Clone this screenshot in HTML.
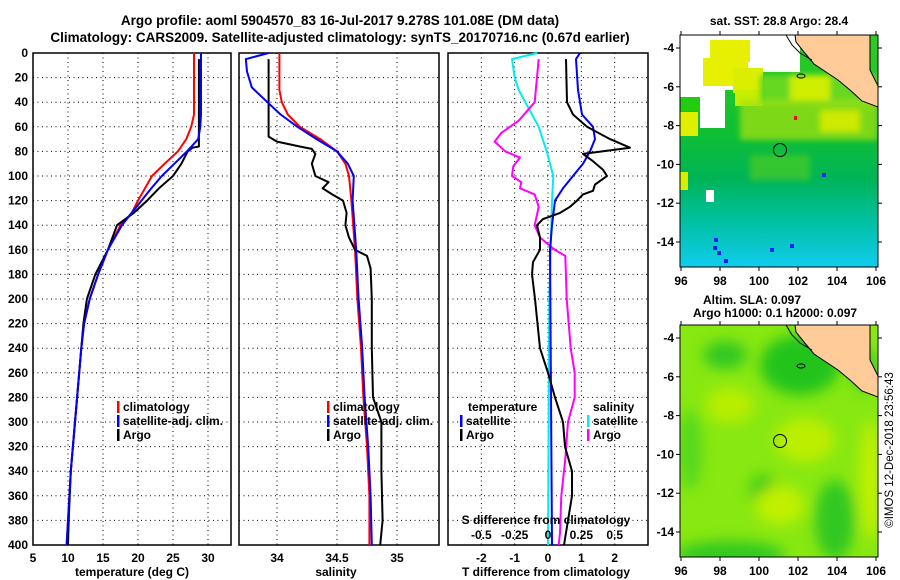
<!DOCTYPE html>
<html><head><meta charset="utf-8">
<style>
html,body{margin:0;padding:0;background:#fff;}
svg{display:block;font-family:"Liberation Sans",Arial,sans-serif;font-weight:bold;}
</style></head>
<body>
<svg id="fig" width="900" height="580" viewBox="0 0 900 580">
<defs>
<filter id="blur6" x="-50%" y="-50%" width="200%" height="200%"><feGaussianBlur stdDeviation="7"/></filter>
<filter id="blur3" x="-50%" y="-50%" width="200%" height="200%"><feGaussianBlur stdDeviation="3"/></filter>
<clipPath id="clipMap1"><rect x="680" y="35" width="198" height="232"/></clipPath>
<clipPath id="clipMap2"><rect x="680" y="325" width="198" height="232"/></clipPath>
<linearGradient id="sstGrad" x1="0" y1="0" x2="0" y2="1">
<stop offset="0" stop-color="#2fcc22"/><stop offset="0.4" stop-color="#10c030"/>
<stop offset="0.62" stop-color="#00b458"/><stop offset="0.8" stop-color="#00c0a0"/>
<stop offset="1" stop-color="#10ccee"/></linearGradient>
</defs>
<text x="340" y="25" font-size="13.5" text-anchor="middle">Argo profile: aoml 5904570_83 16-Jul-2017 9.278S 101.08E (DM data)</text>
<text x="340" y="42" font-size="13.5" text-anchor="middle">Climatology: CARS2009. Satellite-adjusted climatology: synTS_20170716.nc (0.67d earlier)</text>
<g id="p1"></g>
<g id="p2"></g>
<g id="p3"></g>

<!-- Top map: SST -->
<g>
<text x="779" y="25" font-size="12" text-anchor="middle">sat. SST: 28.8 Argo: 28.4</text>
<g clip-path="url(#clipMap1)">
<rect x="680" y="35" width="198" height="232" fill="url(#sstGrad)"/>
<polygon points="680,35,800,35,800,72,760,72,760,90,725,90,725,128,700,128,700,100,680,100" fill="#fff"/>
<rect x="710" y="40" width="40" height="22" fill="#e6f000"/>
<rect x="703" y="58" width="45" height="28" fill="#e6f000"/>
<rect x="733" y="68" width="30" height="25" fill="#dcee00"/>
<rect x="735" y="90" width="28" height="16" fill="#c8ee00"/>
<rect x="680" y="97" width="20" height="14" fill="#22cc11"/>
<rect x="680" y="112" width="18" height="24" fill="#e0ee00"/>
<g filter="url(#blur3)">
<rect x="760" y="75" width="118" height="30" fill="#66d822"/>
<rect x="790" y="75" width="40" height="25" fill="#d0ee00"/>
<rect x="740" y="100" width="138" height="40" fill="#a0e010" opacity="0.75"/>
<rect x="820" y="110" width="40" height="22" fill="#e0ee00" opacity="0.8"/>
<rect x="750" y="155" width="60" height="25" fill="#55d020" opacity="0.6"/>
</g>
<rect x="680" y="172" width="8" height="18" fill="#d6ee00"/>
<rect x="706" y="190" width="8" height="12" fill="#fff"/>
<rect x="794" y="116" width="3" height="4" fill="#f00"/>
<rect x="822" y="173" width="4" height="4" fill="#0022ee"/>
<rect x="714" y="238" width="4" height="4" fill="#0022ee"/><rect x="713" y="246" width="4" height="4" fill="#0022ee"/>
<rect x="717" y="251" width="4" height="4" fill="#0022ee"/><rect x="724" y="259" width="4" height="4" fill="#0022ee"/>
<rect x="770" y="248" width="4" height="4" fill="#0022ee"/><rect x="790" y="244" width="4" height="4" fill="#0022ee"/>
<polygon points="795,35,870,35,870,70,878,86,878,107,862,101,850,90,838,80,826,72,814,64,804,52,796,42" fill="#ffcc99" stroke="#000" stroke-width="1"/>
<polyline points="786,35,792,45,800,53,812,60" fill="none" stroke="#000"/>
<ellipse cx="801" cy="76" rx="4" ry="2" fill="none" stroke="#000"/>
<circle cx="780" cy="150" r="6.5" fill="none" stroke="#000"/>
</g>
<rect x="680" y="35" width="198" height="232" fill="none" stroke="#000"/>
<g id="m1ax"></g>
</g>

<!-- Bottom map: SLA -->
<g>
<text x="752" y="304" font-size="12" text-anchor="middle">Altim. SLA: 0.097</text>
<text x="775" y="317" font-size="12" text-anchor="middle">Argo h1000: 0.1 h2000: 0.097</text>
<g clip-path="url(#clipMap2)">
<rect x="680" y="325" width="198" height="232" fill="#88e811"/>
<g filter="url(#blur6)">
<ellipse cx="800" cy="365" rx="40" ry="30" fill="#22c41a"/>
<ellipse cx="725" cy="355" rx="22" ry="14" fill="#33c822"/>
<ellipse cx="764" cy="492" rx="14" ry="16" fill="#22c41a"/>
<ellipse cx="835" cy="520" rx="20" ry="40" fill="#33c822"/>
<ellipse cx="730" cy="555" rx="55" ry="14" fill="#33c822"/>
<ellipse cx="690" cy="450" rx="12" ry="40" fill="#55d81a"/>
<ellipse cx="730" cy="405" rx="24" ry="18" fill="#b8ee00"/>
<ellipse cx="805" cy="440" rx="30" ry="22" fill="#bcee00"/>
<ellipse cx="780" cy="505" rx="25" ry="20" fill="#c0f000"/>
<ellipse cx="870" cy="480" rx="10" ry="60" fill="#c4f000"/>
<ellipse cx="865" cy="370" rx="14" ry="22" fill="#44cc22"/>
</g>
<polygon points="795,325,870,325,870,360,878,376,878,397,862,391,850,380,838,370,826,362,814,354,804,342,796,332" fill="#ffcc99" stroke="#000" stroke-width="1"/>
<polyline points="786,325,792,335,800,343,812,350" fill="none" stroke="#000"/>
<ellipse cx="801" cy="366" rx="4" ry="2" fill="none" stroke="#000"/>
<circle cx="780" cy="441" r="6.5" fill="none" stroke="#000"/>
</g>
<rect x="680" y="325" width="198" height="232" fill="none" stroke="#000"/>
<g id="m2ax"></g>
</g>
<text transform="translate(893,450) rotate(-90)" font-size="11.5" font-weight="normal" text-anchor="middle">©IMOS 12-Dec-2018 23:56:43</text>
</svg>
<script>
// ---- data ----
const tDepth = [0,50,60,70,80,90,100,110,120,130,140,160,180,200,220,240,260,280,300,340,380,400];
const tClim = [28.0,28.0,27.6,26.9,25.7,23.8,22.0,21.0,20.0,19.1,17.5,15.7,14.3,13.1,12.3,11.9,11.6,11.3,11.0,10.4,10.0,9.8];
const tSat = [29.0,29.0,28.9,28.6,27.0,25.2,23.4,21.9,20.5,19.1,17.7,15.7,14.3,13.1,12.3,11.9,11.6,11.3,11.0,10.4,10.0,9.8];
const tArgoDepth = [5,76,77,80,90,100,110,120,130,140,160,180,200,220,240,260,280,300,340,380,400];
const tArgo = [28.7,28.7,27.8,27.1,26.2,25.0,23.0,21.3,19.4,17.0,15.7,13.9,12.7,12.2,11.9,11.6,11.3,11.0,10.4,10.1,10.0];
const sClimDepth = [0,30,40,50,60,70,80,90,100,120,160,200,240,280,320,360,400];
const sClim = [34.02,34.02,34.04,34.09,34.19,34.36,34.50,34.57,34.60,34.62,34.65,34.67,34.70,34.72,34.75,34.77,34.77];
const sSatDepth = [0,5,15,28,40,50,60,70,80,90,100,120,160,200,240,280,320,360,400];
const sSat = [33.93,33.74,33.75,33.79,33.92,34.03,34.17,34.33,34.50,34.59,34.64,34.63,34.66,34.68,34.71,34.73,34.76,34.78,34.79];
const sArgoDepth = [5,68,72,76,78,82,90,100,105,110,115,120,130,140,150,160,165,175,200,240,280,300,340,380,400];
const sArgo = [33.93,33.93,34.00,34.19,34.29,34.32,34.29,34.32,34.43,34.38,34.46,34.55,34.58,34.57,34.60,34.65,34.75,34.78,34.79,34.79,34.80,34.87,34.87,34.88,34.86];
const dsSatDepth = [0,5,20,30,40,50,60,80,100,120,160,200,400];
const dsSat = [-0.08,-0.27,-0.25,-0.22,-0.17,-0.12,-0.07,-0.01,0.04,0.03,0.02,0.01,0.00];
const dsArgoDepth = [5,40,55,65,72,80,85,92,100,105,110,115,125,140,150,160,165,200,240,260,280,300,330,360,390,400];
const dsArgo = [-0.07,-0.10,-0.22,-0.35,-0.40,-0.32,-0.21,-0.26,-0.27,-0.20,-0.21,-0.10,-0.07,-0.10,-0.06,0.05,0.13,0.14,0.17,0.20,0.20,0.15,0.13,0.10,0.09,0.08];
const dtSatDepth = [0,5,30,50,60,70,80,90,100,110,120,140,160,400];
const dtSat = [0.96,0.84,0.90,1.02,1.35,1.41,1.26,1.05,0.75,0.45,0.21,0.12,0.06,0.12];
const dtArgoDepth = [5,40,50,60,70,77,82,88,95,100,107,112,115,120,125,130,135,140,150,160,170,180,200,240,260,280,300,320,340,360,380,400];
const dtArgo = [0.54,0.57,0.75,1.17,1.86,2.46,1.05,1.35,1.65,1.77,1.41,1.35,1.05,0.87,0.66,0.36,-0.15,-0.33,-0.24,-0.24,-0.45,-0.48,-0.39,-0.24,0.0,0.21,0.45,0.51,0.72,0.72,0.60,0.48];
const depthTicks = [0,20,40,60,80,100,120,140,160,180,200,220,240,260,280,300,320,340,360,380,400];
const tTicks = [5,10,15,20,25,30];
const sTicks = [34,34.5,35];
const dtTicks = [-2,-1,0,1,2];
const dsTicks = [-0.5,-0.25,0,0.25,0.5];
const lonTicks = [96,98,100,102,104,106];
const latTicks = [-4,-6,-8,-10,-12,-14];

const NS = "http://www.w3.org/2000/svg";
const TOP = 53, BOT = 545;
function yD(d){ return TOP + d*(BOT-TOP)/400; }
function mk(parent, tag, attrs){ const e=document.createElementNS(NS,tag); for(const k in attrs) e.setAttribute(k,attrs[k]); parent.appendChild(e); return e; }
function lin(d0,d1,r0,r1){ return v => r0 + (v-d0)*(r1-r0)/(d1-d0); }

function panel(g, x0, x1, xs, vTicks){
  for(const d of depthTicks){ if(d>0&&d<400){ const l=mk(g,'line',{x1:x0,x2:x1,y1:yD(d),y2:yD(d),stroke:'#000','stroke-dasharray':'1 3.5','stroke-width':1});
      } }
  for(const v of vTicks){ const x=xs(v); if(x>x0+1&&x<x1-1){ const l=mk(g,'line',{x1:x,x2:x,y1:TOP,y2:BOT,stroke:'#000','stroke-dasharray':'1 3.5','stroke-width':1});
      } }
  const r=mk(g,'rect',{x:x0,y:TOP,width:x1-x0,height:BOT-TOP,fill:'none',stroke:'#000','stroke-width':1.5});
   
}
function line(g, xs, vals, depths, color, name, w){
  const pts = vals.map((v,i)=> xs(v).toFixed(1)+','+yD(depths[i]).toFixed(1)).join(' ');
  const p = mk(g,'polyline',{points:pts,fill:'none',stroke:color,'stroke-width':w||2,'stroke-linejoin':'round'});
  
  
}
function txt(g, x, y, s, attrs, name){
  const t=mk(g,'text',Object.assign({x:x,y:y,'font-size':12},attrs||{})); t.textContent=s;
  
  
  return t;
}
function legend(g, x, y, color, label, name){
  const m=mk(g,'rect',{x:x,y:y-10,width:2.5,height:12,fill:color});
  
  
  txt(g, x+6, y, label, {}, name);
}

// Panel 1
const p1=document.getElementById('p1');
const xT = lin(5,30,33,208);
panel(p1,33,231,xT,tTicks);
line(p1,xT,tClim,tDepth,'#f00','temperature-climatology-line');
line(p1,xT,tArgo,tArgoDepth,'#000','temperature-argo-line');
line(p1,xT,tSat,tDepth,'#00f','temperature-satellite-line');
for(const d of depthTicks) txt(p1,28,yD(d)+4,String(d),{'text-anchor':'end'},'depth-tick-label');
for(const v of tTicks) txt(p1,xT(v),562,String(v),{'text-anchor':'middle'},'temperature-tick-label');
txt(p1,132,576,'temperature (deg C)',{'text-anchor':'middle'},'temperature-axis-title');
legend(p1,117,411,'#f00','climatology','legend-climatology');
legend(p1,117,425,'#00f','satellite-adj. clim.','legend-satellite');
legend(p1,117,439,'#000','Argo','legend-argo');

// Panel 2
const p2=document.getElementById('p2');
const xS = lin(34,35,277,397);
panel(p2,239,439,xS,sTicks);
line(p2,xS,sClim,sClimDepth,'#f00','salinity-climatology-line');
line(p2,xS,sArgo,sArgoDepth,'#000','salinity-argo-line');
line(p2,xS,sSat,sSatDepth,'#00f','salinity-satellite-line');
for(const v of sTicks) txt(p2,xS(v),562,String(v),{'text-anchor':'middle'},'salinity-tick-label');
txt(p2,336,576,'salinity',{'text-anchor':'middle'},'salinity-axis-title');
legend(p2,327,411,'#f00','climatology','legend-climatology');
legend(p2,327,425,'#00f','satellite-adj. clim.','legend-satellite');
legend(p2,327,439,'#000','Argo','legend-argo');

// Panel 3
const p3=document.getElementById('p3');
const xDT = lin(-3,3,448,648);
const xDS = lin(-0.75,0.75,448,648);
panel(p3,448,648,xDT,dtTicks);
line(p3,xDS,dsSat,dsSatDepth,'#00eeee','salinity-diff-satellite-line');
line(p3,xDS,dsArgo,dsArgoDepth,'#ff00ff','salinity-diff-argo-line');
line(p3,xDT,dtSat,dtSatDepth,'#00f','temperature-diff-satellite-line');
line(p3,xDT,dtArgo,dtArgoDepth,'#000','temperature-diff-argo-line');
for(const v of dtTicks) txt(p3,xDT(v),562,String(v),{'text-anchor':'middle'},'t-diff-tick-label');
for(const v of dsTicks) txt(p3,xDS(v),539,String(v),{'text-anchor':'middle'},'s-diff-tick-label');
txt(p3,546,524,'S difference from climatology',{'text-anchor':'middle'},'s-diff-axis-title');
txt(p3,546,576,'T difference from climatology',{'text-anchor':'middle'},'t-diff-axis-title');
txt(p3,468,411,'temperature',{},'legend-temperature-heading');
legend(p3,460,425,'#00f','satellite','legend-t-satellite');
legend(p3,460,439,'#000','Argo','legend-t-argo');
txt(p3,593,411,'salinity',{},'legend-salinity-heading');
legend(p3,587,425,'#00eeee','satellite','legend-s-satellite');
legend(p3,587,439,'#ff00ff','Argo','legend-s-argo');

// Map axes
function mapAxes(id, top){
  const g=document.getElementById(id);
  const xl = lin(96,106,681,876);
  const yl = lin(-4,-14,top+13,top+207);
  for(const v of lonTicks){ const x=xl(v);
    mk(g,'line',{x1:x,x2:x,y1:top,y2:top-4,stroke:'#000'});
    mk(g,'line',{x1:x,x2:x,y1:top+232,y2:top+236,stroke:'#000'});
    txt(g,x,top+250,String(v),{'text-anchor':'middle'},'longitude-tick-label'); }
  for(const v of latTicks){ const y=yl(v);
    mk(g,'line',{x1:676,x2:680,y1:y,y2:y,stroke:'#000'});
    mk(g,'line',{x1:878,x2:882,y1:y,y2:y,stroke:'#000'});
    txt(g,674,y+4,String(v),{'text-anchor':'end'},'latitude-tick-label'); }
}
mapAxes('m1ax',35);
mapAxes('m2ax',325);
</script>
</body></html>
